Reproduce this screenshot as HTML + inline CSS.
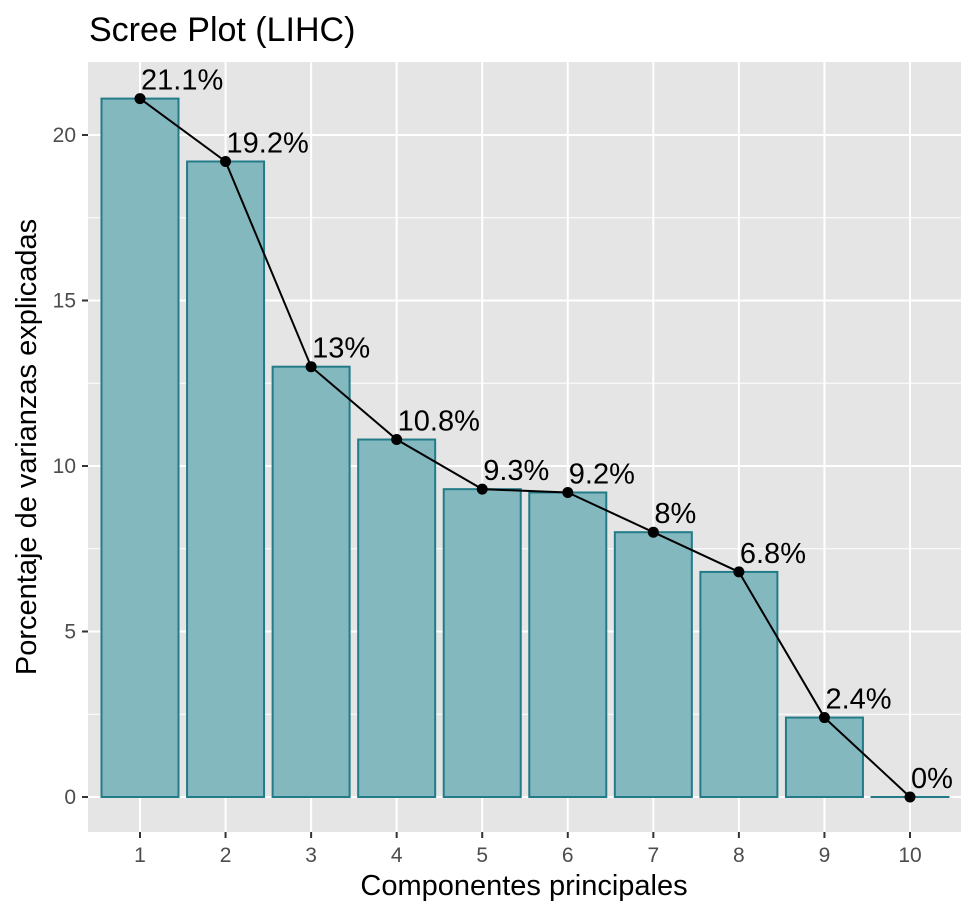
<!DOCTYPE html>
<html><head><meta charset="utf-8"><style>
body{margin:0;background:#fff}
text{font-family:"Liberation Sans",Arial,sans-serif}
</style></head><body>
<svg id="chart" width="976" height="916" xmlns="http://www.w3.org/2000/svg">
<text x="89" y="41" font-size="34" fill="#000">Scree Plot (LIHC)</text>
<rect x="88" y="62" width="873" height="770" fill="#e5e5e5"/>
<g id="grid"></g><g id="bars"></g><g id="line"></g><g id="labels"></g><g id="axes"></g>
<text x="524" y="895" font-size="29" text-anchor="middle" fill="#000">Componentes principales</text>
<text transform="translate(36,447) rotate(-90)" font-size="29" text-anchor="middle" fill="#000">Porcentaje de varianzas explicadas</text>
</svg>
<script>
const categories=[1,2,3,4,5,6,7,8,9,10];
const values=[21.1,19.2,13.0,10.8,9.3,9.2,8.0,6.8,2.4,0.0];
const valueLabels=["21.1%","19.2%","13%","10.8%","9.3%","9.2%","8%","6.8%","2.4%","0%"];
const yTicks=[0,5,10,15,20];
const NS="http://www.w3.org/2000/svg";
const px0=88,px1=961,py0=62,py1=832;
const xs=i=>140+(i-1)*(910-140)/9;
const step=(910-140)/9;
const ys=v=>797-v*(797-135)/20;
function mk(t,a,p){const e=document.createElementNS(NS,t);for(const k in a)e.setAttribute(k,a[k]);document.getElementById(p).appendChild(e);return e;}
for(let v=2.5;v<22;v+=5){const g=mk('line',{x1:px0,x2:px1,y1:ys(v),y2:ys(v),stroke:'#fff','stroke-width':1},'grid');

}
yTicks.forEach(v=>{const g=mk('line',{x1:px0,x2:px1,y1:ys(v),y2:ys(v),stroke:'#fff','stroke-width':2},'grid');


const t=mk('line',{x1:82,x2:88,y1:ys(v),y2:ys(v),stroke:'#333','stroke-width':2},'axes');


const l=mk('text',{x:76,y:ys(v)+7,'font-size':21,fill:'#4d4d4d','text-anchor':'end'},'axes');l.textContent=v;

});
categories.forEach((c,i)=>{const x=xs(c);
const g=mk('line',{x1:x,x2:x,y1:py0,y2:py1,stroke:'#fff','stroke-width':2},'grid');


const t=mk('line',{x1:x,x2:x,y1:832,y2:838,stroke:'#333','stroke-width':2},'axes');


const l=mk('text',{x:x,y:862,'font-size':21,fill:'#4d4d4d','text-anchor':'middle'},'axes');l.textContent=c;


const w=step*0.9;const top=ys(values[i]);
const b=mk('rect',{x:x-w/2,y:top,width:w,height:Math.max(ys(0)-top,0.01),fill:'#84b8bf',stroke:'#237b88','stroke-width':2},'bars');


});
const pts=categories.map((c,i)=>xs(c)+','+ys(values[i])).join(' ');
const pl=mk('polyline',{points:pts,fill:'none',stroke:'#000','stroke-width':2},'line');


categories.forEach((c,i)=>{
const p=mk('circle',{cx:xs(c),cy:ys(values[i]),r:5.5,fill:'#000'},'line');


const l=mk('text',{x:xs(c)+1,y:ys(values[i])-9,'font-size':29,fill:'#000'},'labels');l.textContent=valueLabels[i];


});
</script>
</body></html>
